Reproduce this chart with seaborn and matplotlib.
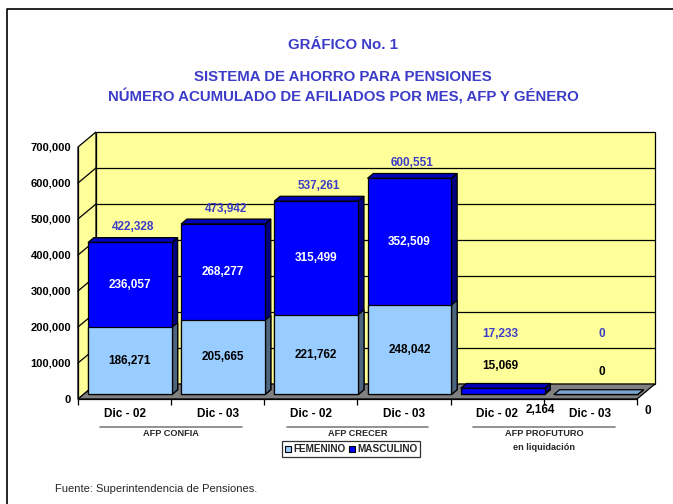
import numpy as np
import pandas as pd
import seaborn as sns
import matplotlib
matplotlib.use("Agg")
import matplotlib.pyplot as plt
from matplotlib import transforms
from matplotlib.patches import Polygon
from matplotlib.lines import Line2D

# datos
afps = ["AFP CONFIA", "AFP CRECER", "AFP PROFUTURO"]
meses = ["Dic - 02", "Dic - 03"]
claves = ["CONFIA 02", "CONFIA 03", "CRECER 02", "CRECER 03", "PROFUTURO 02", "PROFUTURO 03"]
femenino = [186271, 205665, 221762, 248042, 2164, 0]
masculino = [236057, 268277, 315499, 352509, 15069, 0]
y_ticks = [0, 100000, 200000, 300000, 400000, 500000, 600000, 700000]

titulo = "GRÁFICO No. 1"
subtitulo1 = "SISTEMA DE AHORRO PARA PENSIONES"
subtitulo2 = "NÚMERO ACUMULADO DE AFILIADOS POR MES, AFP Y GÉNERO"
fuente = "Fuente: Superintendencia de Pensiones."

# colores
CELESTE = "#99CCFF"
CELESTE_LADO = "#4D6680"
CELESTE_TOPE = "#7AA3CC"
AZUL = "#0000FF"
AZUL_LADO = "#000080"
AZUL_TOPE = "#0000B8"
AMARILLO = "#FFFF99"
GRIS = "#808080"
AZUL_TXT = "#3C3CC8"

sns.set_style("white")
plt.rcParams["font.family"] = ["Liberation Sans", "DejaVu Sans"]

df = pd.DataFrame({"clave": claves, "femenino": femenino, "masculino": masculino})
df["total"] = df["femenino"] + df["masculino"]

W, H = 673, 504
fig = plt.figure(figsize=(W / 100, H / 100), dpi=100)
ax = fig.add_axes([78 / W, 105 / H, 559 / W, 252 / H])
ax.set_facecolor("none")

YMAX = 700000
DX, DY = 0.193, 41667  # profundidad 3D en unidades de datos
F0, F1 = 0.3, 0.62     # profundidad de las barras (frente, fondo)

# paredes y piso
kw = dict(clip_on=False, edgecolor="black", linewidth=0.9)
ax.add_patch(Polygon([(-0.5 + DX, DY), (5.5 + DX, DY), (5.5 + DX, YMAX + DY), (-0.5 + DX, YMAX + DY)],
                     facecolor=AMARILLO, zorder=0.2, **kw))
ax.add_patch(Polygon([(-0.5, 0), (-0.5 + DX, DY), (-0.5 + DX, YMAX + DY), (-0.5, YMAX)],
                     facecolor=AMARILLO, zorder=0.2, **kw))
for t in y_ticks[1:-1]:
    ax.plot([-0.5 + DX, 5.5 + DX], [t + DY, t + DY], color="black", lw=0.9, zorder=0.3, clip_on=False)
    ax.plot([-0.5, -0.5 + DX], [t, t + DY], color="black", lw=0.9, zorder=0.3, clip_on=False)
ax.add_patch(Polygon([(-0.5, 0), (5.5, 0), (5.5 + DX, DY), (-0.5 + DX, DY)],
                     facecolor=GRIS, zorder=0.4, **kw))

# barras apiladas
common = dict(data=df, x="clave", order=claves, width=0.9, saturation=1, errorbar=None,
              edgecolor="black", linewidth=0.9, ax=ax)
sns.barplot(y="total", color=AZUL, **common)
sns.barplot(y="femenino", color=CELESTE, **common)

ax.set_xlim(-0.5, 5.5)
ax.set_ylim(0, YMAX)

shift = transforms.Affine2D().translate(F0 * DX, F0 * DY) + ax.transData
ddx, ddy = (F1 - F0) * DX, (F1 - F0) * DY
n = len(claves)
bars = list(ax.patches)[-2 * n:]
for k, p in enumerate(bars):
    p.set_transform(shift)
    p.set_clip_on(False)
    p.set_zorder(1)
    x0 = p.get_x() + F0 * DX
    x1 = x0 + p.get_width()
    y0 = p.get_y() + F0 * DY
    y1 = y0 + p.get_height()
    es_total = k < n
    lado = AZUL_LADO if es_total else CELESTE_LADO
    ax.add_patch(Polygon([(x1, y0), (x1, y1), (x1 + ddx, y1 + ddy), (x1 + ddx, y0 + ddy)],
                         facecolor=lado, edgecolor="black", lw=0.9, zorder=0.9 if es_total else 0.95,
                         clip_on=False))
    if es_total:
        tope = AZUL_TOPE if p.get_height() > 0 else CELESTE_TOPE
        ax.add_patch(Polygon([(x0, y1), (x1, y1), (x1 + ddx, y1 + ddy), (x0 + ddx, y1 + ddy)],
                             facecolor=tope, edgecolor="black", lw=0.9, zorder=1.1, clip_on=False))

# etiquetas de valores
fmt = "{:,.0f}".format
lab = dict(ha="center", va="center", fontsize=8.5, fontweight="bold", clip_on=False, zorder=3)
for i, row in df.iterrows():
    cx = i + F0 * DX
    if row["total"] > 100000:
        ax.text(cx, row["femenino"] / 2 + F0 * DY, fmt(row["femenino"]), color="black", **lab)
        ax.text(cx, row["femenino"] + row["masculino"] / 2 + F0 * DY, fmt(row["masculino"]),
                color="white", **lab)
        ax.text(i + (F0 + F1) / 2 * DX, row["total"] + 55000, fmt(row["total"]), color=AZUL_TXT, **lab)
# barras pequeñas (PROFUTURO): etiquetas desplazadas como en el original
pos_peq = {4: (0.03, 92000, 0.46, -30000), 5: (0.12, 75000, 0.62, -33000)}
for i, (mx, my, fx, fy) in pos_peq.items():
    row = df.iloc[i]
    ax.text(i + mx, 180000, fmt(row["total"]), color=AZUL_TXT, **lab)
    ax.text(i + mx, my, fmt(row["masculino"]), color="black", **lab)
    ax.text(i + fx, fy, fmt(row["femenino"]), color="black", **lab)

# ejes
sns.despine(ax=ax, top=True, right=True)
for s in ("left", "bottom"):
    ax.spines[s].set_color("black")
    ax.spines[s].set_linewidth(0.9)
    ax.spines[s].set_zorder(2)
ax.set_yticks(y_ticks)
ax.set_yticklabels([fmt(v) for v in y_ticks])
ax.tick_params(axis="y", direction="out", length=4, width=0.9, color="black", pad=1,
               labelsize=8, labelcolor="black")
for t in ax.get_yticklabels():
    t.set_fontweight("bold")
ax.set_xticks(range(n))
ax.set_xticklabels(meses * len(afps))
ax.set_xticks(np.arange(-0.5, n, 1.0), minor=True)
ax.tick_params(axis="x", which="major", length=0, pad=6.5, labelsize=8.5, labelcolor="black")
ax.tick_params(axis="x", which="minor", direction="out", length=4, width=0.9, color="black", bottom=True)
for t in ax.get_xticklabels():
    t.set_fontweight("bold")
ax.set_xlabel("")
ax.set_ylabel("")

# grupos de AFP
bt = transforms.blended_transform_factory(ax.transData, fig.transFigure)
for g, nombre in enumerate(afps):
    c = 2 * g + 0.5
    ax.add_line(Line2D([c - 0.76, c + 0.76], [1 - 427 / H] * 2, color=GRIS, lw=1.2,
                       transform=bt, clip_on=False))
    ax.text(c, 1 - 434 / H, nombre, transform=bt, ha="center", va="center", fontsize=6.6,
            fontweight="bold", clip_on=False)
ax.text(4.5, 1 - 448 / H, "en liquidación", transform=bt, ha="center", va="center",
        fontsize=6.6, fontweight="bold", clip_on=False)

# leyenda
handles = [Line2D([], [], marker="s", ls="none", markersize=5, markerfacecolor=c,
                  markeredgecolor="black", markeredgewidth=0.8) for c in (CELESTE, AZUL)]
leg = fig.legend(handles, ["FEMENINO", "MASCULINO"], loc="center", bbox_to_anchor=(351 / W, 1 - 449 / H),
                 ncol=2, frameon=True, fancybox=False, edgecolor="black", handlelength=0.7,
                 handletextpad=0.15, columnspacing=0.3, borderpad=0.3, borderaxespad=0,
                 prop=dict(size=7.2, weight="bold"))
leg.get_frame().set_linewidth(0.9)

# títulos
tk = dict(ha="center", va="center", color=AZUL_TXT, fontweight="bold", fontsize=10.8)
fig.text(343 / W, 1 - 45 / H, titulo, **tk)
fig.text(343 / W, 1 - 77 / H, subtitulo1, **tk)
fig.text(343 / W, 1 - 96 / H, subtitulo2, **tk)
fig.text(55 / W, 1 - 489 / H, fuente, ha="left", va="center", fontsize=8)

# marco
fig.add_artist(Line2D([7 / W, 7 / W, 1], [0, 1 - 9 / H, 1 - 9 / H], color="black", lw=1.2,
                      transform=fig.transFigure))

fig.savefig("out.png", dpi=100)
